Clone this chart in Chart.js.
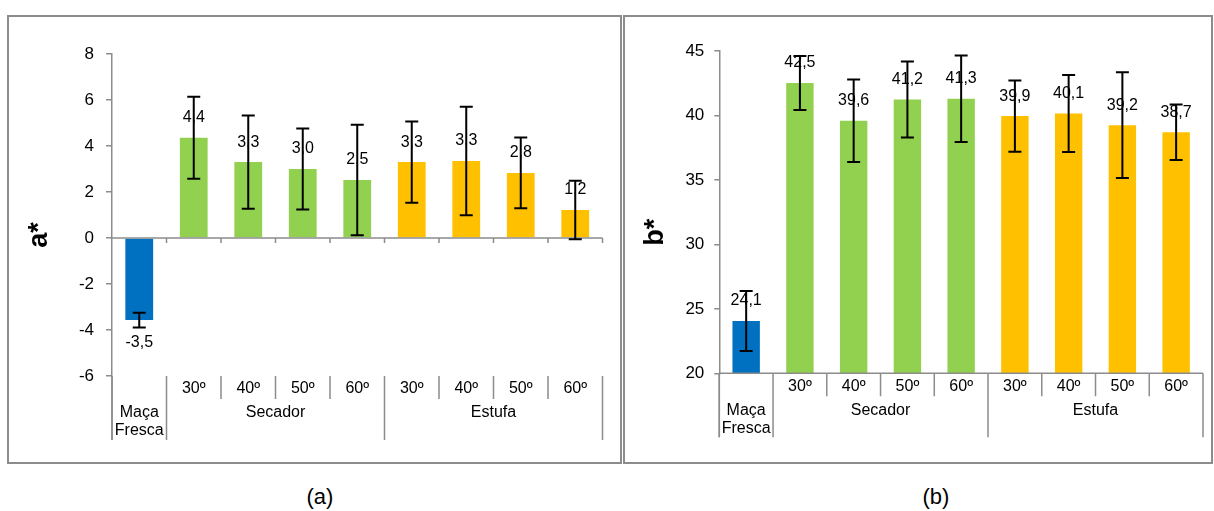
<!DOCTYPE html>
<html lang="pt">
<head>
<meta charset="utf-8">
<title>a* e b*</title>
<script src="https://cdn.jsdelivr.net/npm/chart.js@4.4.1/dist/chart.umd.min.js"></script>
<style>
  body { margin: 0; background: #fff; font-family: "Liberation Sans", Arial, sans-serif; }
  .painel { position: absolute; top: 15px; height: 449px; border: 2px solid #8c8c8c; box-sizing: border-box; }
  #painelA { left: 7px; width: 615px; }
  #painelB { left: 623px; width: 590px; }
  .painel canvas { display: block; }
  .legenda { position: absolute; top: 483px; width: 100px; text-align: center; font-size: 22px; line-height: 28px; color: #000; }
</style>
</head>
<body>
<div class="painel" id="painelA"><canvas id="graficaA" width="611" height="445"></canvas></div>
<div class="painel" id="painelB"><canvas id="graficaB" width="586" height="445"></canvas></div>
<div class="legenda" style="left:270px">(a)</div>
<div class="legenda" style="left:886px">(b)</div>
<script>
// Categorias (nível de baixo e grupos)
const rotulosX = ['', '30º', '40º', '50º', '60º', '30º', '40º', '50º', '60º'];
const grupos = [['Maça', 'Fresca'], ['Secador'], ['Estufa']];
const tamanhoGrupos = [1, 4, 4];
const cores = ['#0070C0', '#92D050', '#92D050', '#92D050', '#92D050', '#FFC000', '#FFC000', '#FFC000', '#FFC000'];

// a*
const valoresA = [-3.57, 4.36, 3.30, 3.00, 2.52, 3.30, 3.35, 2.83, 1.22];
const errosA = [0.32, 1.78, 2.03, 1.76, 2.40, 1.77, 2.36, 1.54, 1.27];
const textosA = ['-3,5', '4,4', '3,3', '3,0', '2,5', '3,3', '3,3', '2,8', '1,2'];
const ticksA = [-6, -4, -2, 0, 2, 4, 6, 8];

// b*
const valoresB = [24.06, 42.52, 39.59, 41.24, 41.30, 39.95, 40.15, 39.25, 38.70];
const errosB = [2.33, 2.10, 3.20, 2.94, 3.35, 2.77, 2.98, 4.10, 2.15];
const textosB = ['24,1', '42,5', '39,6', '41,2', '41,3', '39,9', '40,1', '39,2', '38,7'];
const ticksB = [20, 25, 30, 35, 40, 45];

const fonte = '"Liberation Sans", Arial, sans-serif';
const corEixo = '#8c8c8c';

// Desenha eixo, rótulos em dois níveis, barras de erro e valores
const extras = {
  id: 'extras',
  afterDatasetsDraw(chart, args, opts) {
    const ctx = chart.ctx;
    const xs = chart.scales.x, ys = chart.scales.y;
    const area = chart.chartArea;
    const n = chart.data.labels.length;
    const passo = (area.right - area.left) / n;
    const limite = i => xs.getPixelForValue(Math.min(i, n - 1)) + (i < n ? -passo / 2 : passo / 2);
    const baseY = ys.getPixelForValue(opts.base);
    const dados = chart.data.datasets[0].data;

    ctx.save();
    ctx.strokeStyle = corEixo;
    ctx.lineWidth = 1.5;
    ctx.beginPath();
    // eixo das categorias e marcas
    ctx.moveTo(area.left, baseY);
    ctx.lineTo(area.right, baseY);
    for (let i = 1; i <= n; i++) {
      ctx.moveTo(limite(i), baseY);
      ctx.lineTo(limite(i), baseY + 5);
    }
    // separadores da zona dos rótulos
    const fimGrupos = [0];
    tamanhoGrupos.forEach(t => fimGrupos.push(fimGrupos[fimGrupos.length - 1] + t));
    for (let i = 0; i <= n; i++) {
      const px = limite(i);
      const comp = fimGrupos.includes(i) ? 64 : 23;
      ctx.moveTo(px, area.bottom);
      ctx.lineTo(px, area.bottom + comp);
    }
    ctx.stroke();

    // rótulos
    ctx.fillStyle = '#000';
    ctx.textAlign = 'center';
    ctx.textBaseline = 'middle';
    ctx.font = '16px ' + fonte;
    rotulosX.forEach((r, i) => ctx.fillText(r, xs.getPixelForValue(i), area.bottom + 13));
    grupos.forEach((linhas, g) => {
      const cx = (limite(fimGrupos[g]) + limite(fimGrupos[g + 1])) / 2;
      linhas.forEach((t, k) => ctx.fillText(t, cx, area.bottom + 37 + k * 18));
    });

    // valores
    ctx.font = '16px ' + fonte;
    dados.forEach((v, i) => {
      const py = ys.getPixelForValue(v);
      ctx.fillText(opts.textos[i], xs.getPixelForValue(i), v >= 0 ? py - 20 : py + 22);
    });

    // barras de erro
    ctx.strokeStyle = '#000';
    ctx.lineWidth = 2;
    ctx.beginPath();
    dados.forEach((v, i) => {
      const px = xs.getPixelForValue(i);
      const y1 = ys.getPixelForValue(v + opts.erros[i]);
      const y2 = ys.getPixelForValue(v - opts.erros[i]);
      ctx.moveTo(px, y1); ctx.lineTo(px, y2);
      ctx.moveTo(px - 6.5, y1); ctx.lineTo(px + 6.5, y1);
      ctx.moveTo(px - 6.5, y2); ctx.lineTo(px + 6.5, y2);
    });
    ctx.stroke();

    // prolonga o eixo vertical
    ctx.strokeStyle = corEixo;
    ctx.lineWidth = 1.5;
    ctx.beginPath();
    ctx.moveTo(area.left, area.bottom);
    ctx.lineTo(area.left, area.bottom + 64);
    ctx.stroke();

    // título do eixo
    ctx.translate(31, (area.top + area.bottom) / 2 + 20);
    ctx.rotate(-Math.PI / 2);
    ctx.font = 'bold 27px ' + fonte;
    ctx.fillText(opts.titulo, 0, 0);
    ctx.restore();
  }
};

function criarGrafico(id, valores, erros, textos, ticks, titulo, cfg) {
  return new Chart(document.getElementById(id), {
    type: 'bar',
    data: {
      labels: rotulosX,
      datasets: [{ data: valores, backgroundColor: cores, barPercentage: 0.51, categoryPercentage: 1 }]
    },
    plugins: [extras],
    options: {
      responsive: false,
      animation: false,
      layout: { padding: cfg.padding },
      plugins: {
        legend: { display: false },
        tooltip: { enabled: false },
        extras: { erros: erros, textos: textos, titulo: titulo, base: cfg.base }
      },
      scales: {
        x: { display: false },
        y: {
          min: ticks[0],
          max: ticks[ticks.length - 1],
          ticks: { stepSize: ticks[1] - ticks[0], color: '#000', font: { size: 17, family: fonte }, padding: cfg.pad },
          grid: { drawOnChartArea: false, drawTicks: true, tickLength: cfg.tick, color: corEixo, lineWidth: 1.5 },
          border: { display: true, color: corEixo, width: 1.5 },
          afterFit(scale) { scale.width = cfg.largura; }
        }
      }
    }
  });
}

criarGrafico('graficaA', valoresA, errosA, textosA, ticksA, 'a*',
  { padding: { top: 37, right: 17.5, bottom: 86, left: 0 }, largura: 103, pad: 12, tick: 6, base: 0 });
criarGrafico('graficaB', valoresB, errosB, textosB, ticksB, 'b*',
  { padding: { top: 34, right: 8, bottom: 88.7, left: 0 }, largura: 94.3, pad: 10, tick: 5, base: 20 });
</script>
</body>
</html>
